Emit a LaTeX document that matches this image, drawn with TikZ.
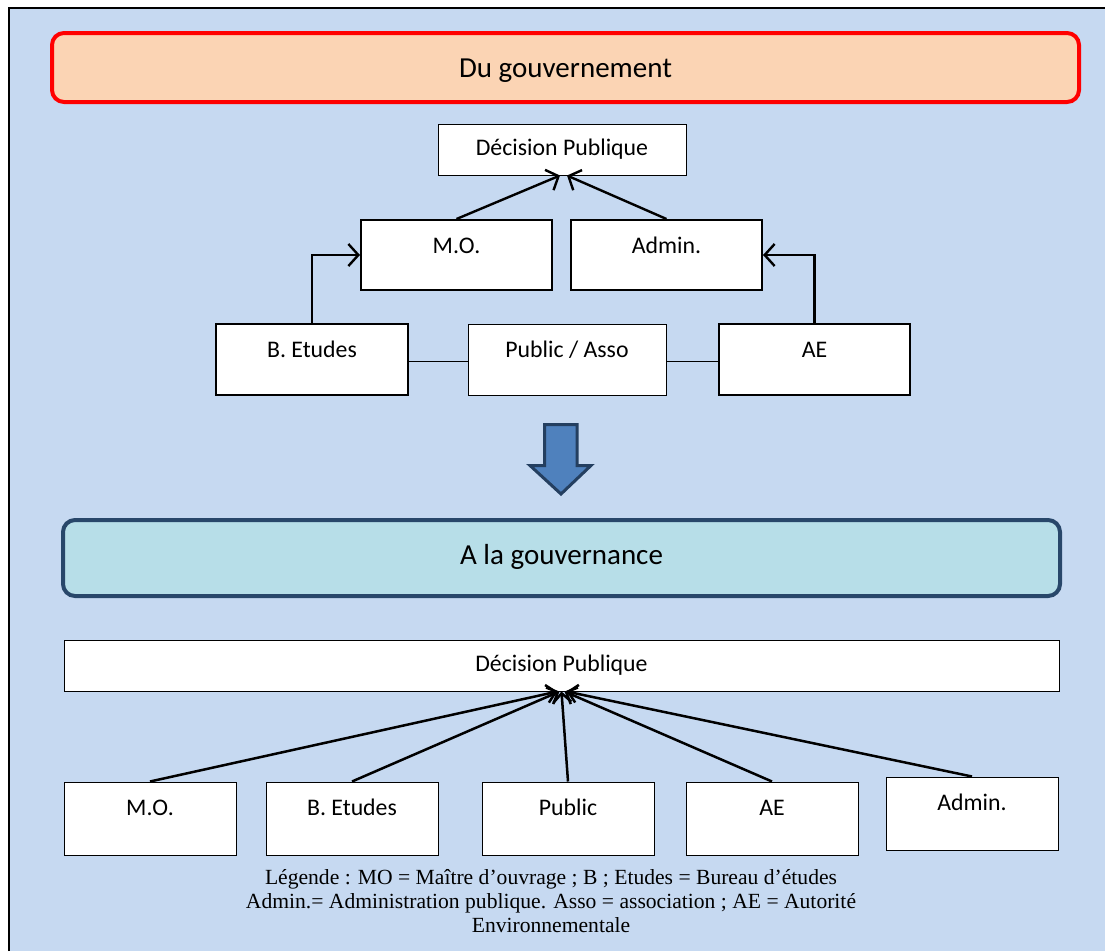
\documentclass[tikz,border=0pt]{standalone}
\usepackage{fontspec}
\setmainfont{Carlito}
\newfontfamily\legendfont{Liberation Serif}
\usetikzlibrary{positioning, arrows.meta}
\definecolor{panelblue}{HTML}{C6D9F1}
\definecolor{peach}{HTML}{FBD4B4}
\definecolor{paleteal}{HTML}{B7DEE8}
\definecolor{navyedge}{HTML}{28476A}
\definecolor{arrowfill}{HTML}{4F81BD}
\definecolor{arrowedge}{HTML}{243F60}
\newcommand{\boxarrow}{-{Straight Barb[length=10pt,width=22pt]}}
\newcommand{\fanarrow}{-{Straight Barb[length=9pt,width=18pt]}}
\newcommand{\boxfont}{\fontsize{23.8}{28}\selectfont}

\tikzset{
  titlebox/.style={rounded corners=12pt, line width=4pt, inner sep=0pt,
    font=\fontsize{29}{34}\selectfont},
  whitebox/.style={draw, fill=white, inner sep=0pt, line width=1pt, font=\boxfont},
  upbox/.style={whitebox, text height=33pt, text depth=#1}
}

\begin{document}
\begin{tikzpicture}[x=1pt, y=-1pt]
    \useasboundingbox (0,0) rectangle (1105,951);
    \fill[panelblue] (9,8) rectangle (1105,951);
    \draw[line width=1.5pt] (9,951) -- (9,8) -- (1105,8);

    \node[titlebox, draw=red, fill=peach, minimum width=1027pt, minimum height=69pt,
        text height=22pt, text depth=2pt]
        (gov) at (565.5,67.5) { Du gouvernement };
    \node[whitebox, minimum width=248pt, minimum height=51pt] (decone) at (562,149.5) { Décision Publique };
    \node[upbox=37pt, line width=2pt, minimum width=191pt] (moone) at (456.5,255) { M.O. };
    \node[upbox=37pt, line width=2pt, minimum width=191pt] (admone) at (666.5,255) { Admin. };
    \node[upbox=38pt, line width=2pt, minimum width=192pt] (betone) at (312,359.5) { B. Etudes };
    \node[upbox=38pt, minimum width=198pt] (pubone) at (567,359.5) { Public / Asso };
    \node[upbox=38pt, line width=2pt, minimum width=191pt] (aeone) at (814.5,359.5) { AE };

    \draw[line width=2.4pt, \boxarrow] (moone.north) -- ([xshift=-2pt]decone.south);
    \draw[line width=2.4pt, \boxarrow] (admone.north) -- ([xshift=5pt]decone.south);
    \draw[line width=2.4pt, \boxarrow] (betone.north) |- (moone.west);
    \draw[line width=2.4pt, \boxarrow] (aeone.north) |- (admone.east);
    \draw[line width=1.5pt] ([yshift=-2pt]betone.east) -- ([yshift=-2pt]pubone.west);
    \draw[line width=1.5pt] ([yshift=-2pt]pubone.east) -- ([yshift=-2pt]aeone.west);

    \draw[line width=3pt, draw=arrowedge, fill=arrowfill, line join=miter]
        (544.5,424.5) -- (577,424.5) -- (577,465.5) -- (591,465.5) -- (561,494)
        -- (530,465.5) -- (544.5,465.5) -- cycle;

    \node[titlebox, draw=navyedge, fill=paleteal, minimum width=997pt, minimum height=76pt,
        text height=20pt, text depth=8pt]
        (gouv) at (561.5,558) { A la gouvernance };
    \node[whitebox, minimum width=995pt, minimum height=51pt] (dectwo) at (561.5,665.5) { Décision Publique };
    \node[upbox=40pt, minimum width=172pt] (motwo) at (150,818.5) { M.O. };
    \node[upbox=40pt, minimum width=172pt] (bettwo) at (352,818.5) { B. Etudes };
    \node[upbox=40pt, minimum width=172pt] (pubtwo) at (568,818.5) { Public };
    \node[upbox=40pt, minimum width=172pt] (aetwo) at (772,818.5) { AE };
    \node[upbox=40pt, minimum width=172pt] (admtwo) at (972,813.5) { Admin. };

    \draw[line width=2.5pt, \fanarrow] (motwo.north) -- ([xshift=-4pt]dectwo.south);
    \draw[line width=2.5pt, \fanarrow] (bettwo.north) -- ([xshift=-2pt]dectwo.south);
    \draw[line width=2.5pt, \fanarrow] (pubtwo.north) -- ([xshift=0pt]dectwo.south);
    \draw[line width=2.5pt, \fanarrow] (aetwo.north) -- ([xshift=3pt]dectwo.south);
    \draw[line width=2.5pt, \fanarrow] (admtwo.north) -- ([xshift=5pt]dectwo.south);

    \node[align=center, font=\legendfont\fontsize{21.6}{24}\selectfont] (legend) at (551,901)
        { Légende : MO = Maître d’ouvrage ; B ; Etudes = Bureau d’études\\
          Admin.= Administration publique. Asso = association ; AE = Autorité\\
          Environnementale };
\end{tikzpicture}
\end{document}
